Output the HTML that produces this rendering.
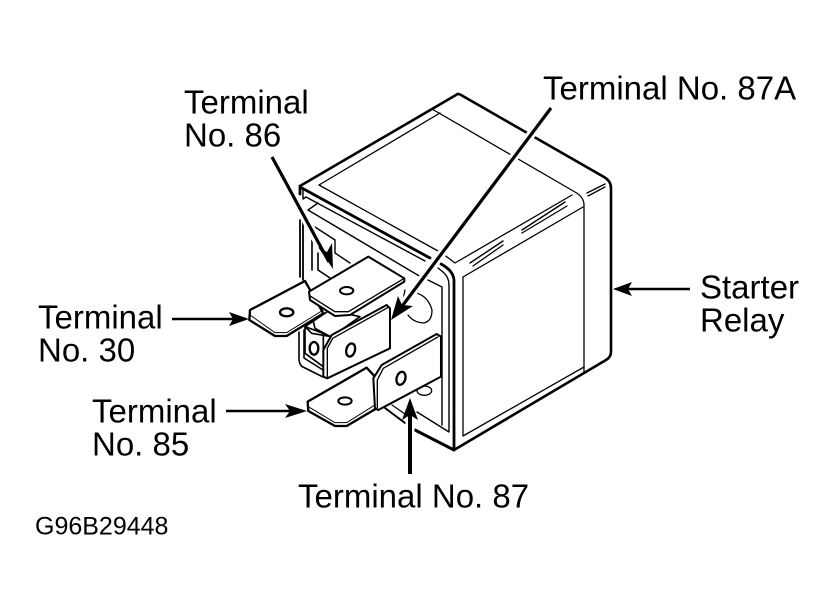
<!DOCTYPE html>
<html><head><meta charset="utf-8"><style>
html,body{margin:0;padding:0;background:#fff;width:838px;height:610px;overflow:hidden}
svg{display:block}
text{font-family:"Liberation Sans",Arial,sans-serif;font-size:33px;fill:#000}
.l{fill:none;stroke:#000;stroke-linejoin:round;stroke-linecap:round}
</style></head><body>
<svg width="838" height="610" viewBox="0 0 838 610" xmlns="http://www.w3.org/2000/svg">
<rect width="838" height="610" fill="#fff"/>
<!-- Body outline -->
<g class="l" stroke-width="2.6">
<path d="M300 186 L456 95 Q458 93 461 95 L604 177 Q611 181 611 188 L611 352 Q611 357 606 360 L454 450"/>
<path d="M300 186 L300 194 M300 187 L430 258 M441 264 Q454 271 454 281 L454 450" stroke-width="2.8"/>
<path d="M415 430 L454 450" stroke-width="3"/>
</g>
<g class="l" stroke-width="1.3">
<path d="M319 185 L440 113"/>
<path d="M432 109 L575 192 Q584 197 584 205 L584 373" />
<path d="M319 185 L438 251 M443 254 L455 263 L572 195"/>
<path d="M463 277 L463 436 L584 367"/>
<path d="M463 277 L583 207"/>
<path d="M470 263 L503 241 M522 230 L565 202 M587 193 L605 184" stroke-width="1.4"/>
<path d="M473 266 L503 245 M522 233 L567 206 M588 196 L605 187"/>
</g>
<!-- Front recess -->
<g class="l" stroke-width="1.4">
<path d="M303 190 L303 199 L306 197 L425 261 M438 268 L443 272 Q449 277 449 285 L449 432 L417 412"/>
<path d="M308 210 L421 277 M308 210 L318 203"/>
<path d="M428 280 L442 287 L442 425"/>
<path d="M315 227 L335 240 L335 253 L350 263"/>
<path d="M300 220 L300 277 M303 222 L303 280" stroke-width="1.8"/>
<path d="M312 240 L312 270 M318 253 L318 270 L333 280" stroke-width="1.6"/>
<path d="M299 332 L299 360 Q300 366 303 367 L323 377 M304 330 L304 358 L323 370" stroke-width="1.6"/>
<path d="M413 292 Q428 295 432 310 Q432 322 423 323 Q413 322 408 315" stroke-width="1.3"/>
<path d="M405 290 L403 300" stroke-width="1.3"/>
<path d="M385 408 L405 423" stroke-width="2"/>
<path d="M392 405 L405 414" stroke-width="1.2"/>
</g>
<!-- Terminal blades: zoom-2 coordinates -->
<g transform="translate(240,220) scale(0.3333)">
<!-- 30 -->
<path d="M30 270 L195 183 L250 280 L140 348 L105 348 L28 300 Z" fill="#fff" stroke="#000" stroke-width="7" stroke-linejoin="round"/>
<path d="M30 285 L105 338 L140 338 L250 270" fill="none" stroke="#000" stroke-width="3"/>
<ellipse cx="140" cy="277" rx="20" ry="12" fill="#fff" stroke="#000" stroke-width="7"/>
<!-- connector between -->
<path d="M195 320 L270 270 L360 290 L275 350 L215 340 Z M195 320 L195 400 L250 440 L250 340 Z" fill="#fff" stroke="#000" stroke-width="5" stroke-linejoin="round"/>
<path d="M220 305 L225 325 L275 352" fill="none" stroke="#000" stroke-width="5"/>
<ellipse cx="222" cy="385" rx="13" ry="19" fill="#fff" stroke="#000" stroke-width="7"/>
<!-- 86 -->
<path d="M207 215 L385 110 L493 175 L493 185 L330 285 L285 288 L210 240 Z" fill="#fff" stroke="#000" stroke-width="6" stroke-linejoin="round"/>
<path d="M210 228 L285 275 L325 275 L493 175" fill="none" stroke="#000" stroke-width="4"/>
<ellipse cx="320" cy="212" rx="20" ry="11" fill="#fff" stroke="#000" stroke-width="6"/>
<!-- 87A -->
<path d="M250 390 L275 345 L440 255 L450 265 L450 385 L262 475 L250 470 Z" fill="#fff" stroke="#000" stroke-width="6" stroke-linejoin="round"/>
<path d="M262 475 L262 385 L278 355 L445 262" fill="none" stroke="#000" stroke-width="4"/>
<ellipse cx="332" cy="390" rx="13" ry="20" transform="rotate(15 332 390)" fill="#fff" stroke="#000" stroke-width="7"/>
<!-- 87 lower hole -->
<ellipse cx="553" cy="512" rx="22" ry="14" fill="#fff" stroke="#000" stroke-width="4"/>
<!-- 85 -->
<path d="M203 545 L380 443 L405 470 L410 565 L320 618 L285 618 L205 573 Z" fill="#fff" stroke="#000" stroke-width="7" stroke-linejoin="round"/>
<path d="M205 560 L285 608 L320 608 L405 555" fill="none" stroke="#000" stroke-width="3"/>
<ellipse cx="315" cy="543" rx="20" ry="11" fill="#fff" stroke="#000" stroke-width="6"/>
<!-- 87 -->
<path d="M400 475 L425 435 L590 342 L603 350 L603 470 L415 570 L405 565 Z" fill="#fff" stroke="#000" stroke-width="6" stroke-linejoin="round"/>
<path d="M412 565 L412 480 L430 445 L595 350" fill="none" stroke="#000" stroke-width="4"/>
<ellipse cx="483" cy="475" rx="13" ry="20" transform="rotate(15 483 475)" fill="#fff" stroke="#000" stroke-width="7"/>
</g>
<!-- Leader halos -->
<g stroke="#fff" fill="none" stroke-width="9">
<path d="M285 180 L322 250"/>
<path d="M551 108 L402 306"/>
<path d="M410 474 L410 405"/>
</g>
<!-- Leaders -->
<g stroke="#000" fill="none">
<path d="M272 157 L329 262" stroke-width="3.2"/>
<path d="M551 108 L397 313" stroke-width="3.2"/>
<path d="M690 289 L625 289" stroke-width="2.6"/>
<path d="M172 319 L238 319" stroke-width="2.6"/>
<path d="M226 411 L296 411" stroke-width="2.6"/>
<path d="M410 474 L410 410" stroke-width="4"/>
</g>
<g fill="#000">
<path d="M333 269 L318 247 L327 252 L332 243 Z"/>
<path d="M391 320 L398 296 L402 305 L413 306 Z"/>
<path d="M613 289 L632 282 L628 289 L632 296 Z"/>
<path d="M249 319 L229 312 L233 319 L229 326 Z"/>
<path d="M307 411 L285 404 L290 411 L285 418 Z"/>
<path d="M410 398 L402 420 L410 415 L418 420 Z"/>
</g>
<!-- Labels -->
<text x="184" y="113.5">Terminal</text>
<text x="184" y="146.5">No. 86</text>
<text x="543" y="99.5">Terminal No. 87A</text>
<text x="700" y="298.5">Starter</text>
<text x="700" y="331.5">Relay</text>
<text x="38" y="328.5">Terminal</text>
<text x="38" y="361.5">No. 30</text>
<text x="92" y="422.5">Terminal</text>
<text x="92" y="455.5">No. 85</text>
<text x="298" y="507.5">Terminal No. 87</text>
<text x="35" y="534.5" style="font-size:25px">G96B29448</text>
</svg>
</body></html>
